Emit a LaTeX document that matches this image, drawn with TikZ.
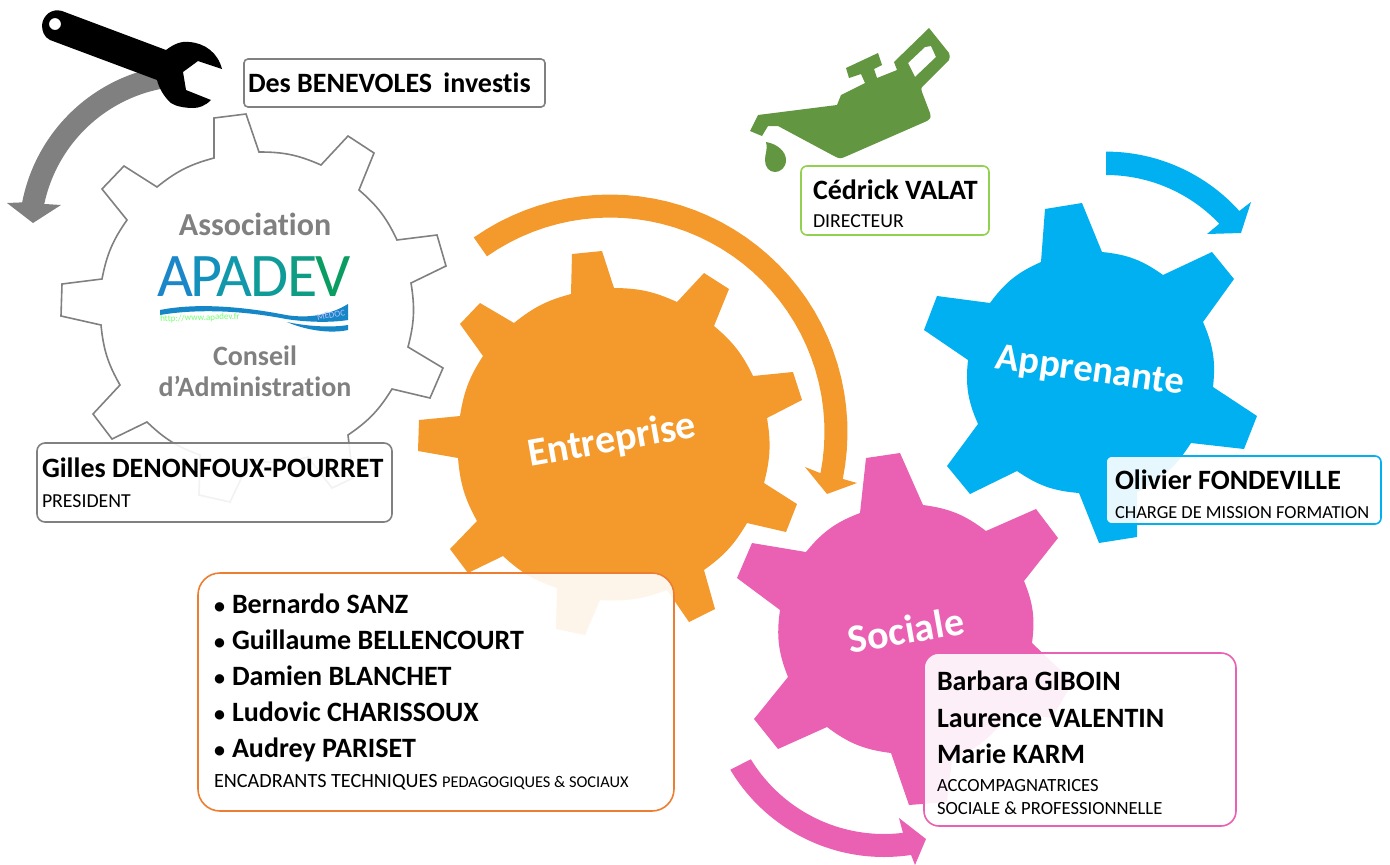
\documentclass[tikz,border=0pt]{standalone}
\usepackage{fontspec}
\setmainfont{Carlito}[Ligatures=NoCommon]
\definecolor{orangeapa}{HTML}{F4992B}
\definecolor{orangeline}{HTML}{ED7D31}
\definecolor{blueapa}{HTML}{00B0F0}
\definecolor{pinkapa}{HTML}{EA60B2}
\definecolor{greyapa}{HTML}{808080}
\definecolor{greenapa}{HTML}{629640}
\definecolor{greenline}{HTML}{92D050}
\definecolor{wave}{HTML}{1586C6}
\newcommand{\rolefont}{\fontsize{19.8}{22}\selectfont\mdseries}
\newcommand{\dotname}{\makebox[18pt][l]{\fontsize{22}{22}\selectfont\textbullet}}

\begin{document}
\begin{tikzpicture}
        [x=1pt, y=-1pt,
        gear/.style={every to/.style={bend left=#1}},
        curve/.style={domain=#1, samples=40},
        title/.style={text=white, font=\fontsize{40}{40}\selectfont\bfseries},
        graytitle/.style={text=greyapa, font=\fontsize{28}{28}\selectfont\bfseries},
        namebox/.style={draw, line width=1.6pt, fill=white, fill opacity=.9, text opacity=1,
            inner sep=0pt, align=flush left, text=black,
            font=\fontsize{28}{30}\selectfont\bfseries},
        logo/.style={font=\fontsize{62}{62}\selectfont}]
        \useasboundingbox (0,0) rectangle (1390,865);

        % gears
        \filldraw[gear=12, draw=greyapa, fill=white, line width=1.6pt]
            (214,118) -- (246,114) -- (259,152) to (321,165) -- (348,136) -- (374,153) -- (359,190)
            to (397,240) -- (437,235) -- (446,266) -- (411,283) to (408,347) -- (443,368) -- (430,398)
            -- (392,389) to (348,435) -- (353,478) -- (332,488) -- (308,457) to (250,460) -- (230,502)
            -- (199,495) -- (200,455) to (147,422) -- (112,439) -- (93,414) -- (120,385) to (101,325)
            -- (61,316) -- (62,284) -- (102,279) to (127,220) -- (102,189) -- (124,166) -- (157,187)
            to (214,158) -- cycle;
        \fill[gear=12, orangeapa]
            (572,254) -- (602,251) -- (614,288) to (677,302) -- (704,273) -- (729,289) -- (714,326)
            to (753,376) -- (793,372) -- (802,400) -- (767,418) to (764,483) -- (797,504) -- (786,532)
            -- (747,523) to (704,570) -- (715,609) -- (689,622) -- (667,590) to (600,600) -- (585,635)
            -- (556,629) -- (557,588) to (503,556) -- (468,573) -- (450,549) -- (477,521) to (458,458)
            -- (418,451) -- (419,420) -- (460,416) to (483,356) -- (460,324) -- (480,303) -- (514,323)
            to (571,294) -- cycle;
        \fill[gear=15, blueapa]
            (1045,209) -- (1082,203) -- (1102,252) to (1163,275) -- (1212,252) -- (1234,279) -- (1203,322)
            to (1213,387) -- (1257,416) -- (1244,449) -- (1191,443) to (1137,492) -- (1137,537)
            -- (1099,543) -- (1079,493) to (1017,471) -- (970,494) -- (947,466) -- (978,424) to (968,360)
            -- (924,330) -- (937,296) -- (990,303) to (1041,262) -- cycle;
        \fill[gear=15, pinkapa]
            (866,458) -- (900,453) -- (923,505) to (986,531) -- (1036,509) -- (1058,538) -- (1024,581)
            to (1032,643) -- (1073,682) -- (1052,718) -- (1010,712) to (952,760) -- (947,802)
            -- (909,805) -- (891,753) to (827,727) -- (778,749) -- (754,719) -- (788,677) to (780,610)
            -- (737,578) -- (752,543) -- (806,552) to (860,513) -- cycle;

        % arrows
        \fill[greyapa] plot[curve=-100:-169] ({190+171*cos(\x)},{235+171*sin(\x)})
            -- (7,203) -- (33,223) -- (61,205) -- (45,204)
            -- plot[curve=-168:-100] ({190+149*cos(\x)},{235+149*sin(\x)}) -- cycle;
        \fill[orangeapa] plot[curve=-125:11.4] ({610+237.5*cos(\x)},{432+237.5*sin(\x)})
            -- (857,483) -- (827,494) -- (805,467) -- (820,473)
            -- plot[curve=11:-125] ({610+214.5*cos(\x)},{432+214.5*sin(\x)}) -- cycle;
        \fill[blueapa] plot[curve=-90:-42] ({1106+179.4*cos(\x)},{331+179.4*sin(\x)})
            -- (1251,202) -- (1241,233) -- (1207,234) -- (1219,224)
            -- plot[curve=-43.4:-90] ({1106+156*cos(\x)},{331+156*sin(\x)}) -- cycle;
        \fill[pinkapa] plot[curve=149.2:81.3] ({884+179*cos(\x)},{678+179*sin(\x)})
            -- (915,865) -- (926,839) -- (899,818) -- (903,833)
            -- plot[curve=83:148.6] ({884+156*cos(\x)},{678+156*sin(\x)}) -- cycle;

        % wrench
        \fill[even odd rule, black]
            (62,11) -- (166,50) .. controls (174,44) and (181,41) .. (189,42)
            .. controls (205,43) and (218,53) .. (222,69) -- (198,61) -- (183,72) -- (186,90) -- (211,100)
            .. controls (205,106) and (199,108) .. (193,108) .. controls (184,108) and (175,106) .. (171,103)
            .. controls (164,97) and (159,88) .. (157,80) -- (50,40)
            .. controls (44,37) and (42,31) .. (42,25) .. controls (43,15) and (52,8) .. (62,11) -- cycle
            (55,24) circle [radius=6];

        % oil can
        \fill[even odd rule, greenapa]
            (929,28) -- (949,53) .. controls (950,56) .. (949,60) -- (924,85) .. controls (921,88) .. (922,92)
            -- (930,113) .. controls (931,118) .. (927,121) -- (847,156) .. controls (840,159) .. (834,156)
            -- (778,126) -- (768,126) -- (762,136) -- (750,131) -- (758,115) -- (837,105)
            -- (841,95) -- (865,83) -- (861,74) -- (849,78) -- (846,68) -- (878,53) -- (882,65) -- (874,69)
            -- (877,78) -- (897,70) -- (894,62) -- cycle
            (931,46) -- (936,57) -- (915,77) -- (908,63) -- (925,47) -- cycle;
        \fill[greenapa] (766,142) .. controls (778,144) and (786,152) .. (786,160)
            .. controls (786,168) and (780,172) .. (775,172) .. controls (769,172) and (765,167) .. (765,160)
            .. controls (765,153) and (768,150) .. (766,142) -- cycle;

        % logo
        \fill[wave] (160,310) .. controls (195,303) and (240,306) .. (286,315) .. controls (310,319) and (332,314) .. (348,304)
            -- (348,320) .. controls (330,323) and (305,322) .. (286,319) .. controls (240,310) and (195,309) .. (160,315) -- cycle;
        \fill[wave] (287,322) .. controls (305,326) and (330,328) .. (348,325) -- (348,330)
            .. controls (330,334) and (305,330) .. (287,322) -- cycle;
        \node (apadev) [logo, inner sep=0pt] at (254,277)
            {\textcolor[HTML]{1B87C9}{A}\kern-3pt\textcolor[HTML]{1490BC}{P}\kern-6pt\textcolor[HTML]{1298AB}{A}\kern-2pt\textcolor[HTML]{0F9C98}{D}\kern-1pt\textcolor[HTML]{0E9C84}{E}\kern-2pt\textcolor[HTML]{099D62}{V}};
        \node (url) [inner sep=0pt, text=green!55!white, rotate=2, font=\fontsize{9}{10}\selectfont] at (200,318) {http://www.apadev.fr};
        \node (medoc) [inner sep=0pt, text=blue!25!white, rotate=10, font=\fontsize{9}{10}\selectfont] at (331,315) {MEDOC};

        % gear names
        \node (assoc) [graytitle, font=\fontsize{32}{32}\selectfont\bfseries] at (255,224) {Association};
        \node (conseil) [graytitle] at (255,356) {Conseil};
        \node (admin) [graytitle] at (255,386) {d’Administration};
        \node (entreprise) [title, rotate=10] at (612,441) {Entreprise};
        \node (apprenante) [title, font=\fontsize{38.5}{40}\selectfont\bfseries, rotate=-8] at (1090,372) {Apprenante};
        \node (sociale) [title, rotate=10] at (906,630) {Sociale};

        % people
        \node (benevoles) [namebox, draw=greyapa, rounded corners=4pt, minimum width=301pt, minimum height=48pt, text width=293pt]
            at (394.5,83) {\rule{0pt}{20pt}Des BENEVOLES\kern5pt\ investis};
        \node (president) [namebox, draw=greyapa, rounded corners=8pt, minimum width=355pt, minimum height=79pt, text width=345pt]
            at (214.5,482.5) {Gilles DENONFOUX-POURRET\\{\rolefont PRESIDENT}};
        \node (directeur) [namebox, draw=greenline, rounded corners=6pt, minimum width=188pt, minimum height=69pt, text width=164pt]
            at (895,200.5) {\rule{0pt}{27pt}\mbox{Cédrick VALAT}\\[-2pt]{\rolefont DIRECTEUR}};
        \node (charge) [namebox, draw=blueapa, rounded corners=6pt, minimum width=275pt, minimum height=68pt, text width=257pt]
            at (1243.5,490) {\rule{0pt}{29pt}Olivier FONDEVILLE\\[-1pt]{\fontsize{18.4}{22}\selectfont\mdseries\mbox{CHARGE DE MISSION FORMATION}}};
        \node (encadrants) [namebox, draw=orangeline, rounded corners=22pt, minimum width=476pt, minimum height=238pt, text width=444pt]
            at (436,692) {\dotname Bernardo SANZ\\[6pt]\dotname Guillaume BELLENCOURT\\[6pt]\dotname Damien BLANCHET\\[6pt]\dotname Ludovic CHARISSOUX\\[6pt]\dotname Audrey PARISET\\[0pt]{\fontsize{20.2}{22}\selectfont\mdseries ENCADRANTS TECHNIQUES {\fontsize{16.4}{22}\selectfont PEDAGOGIQUES \& SOCIAUX}}};
        \node (accomp) [namebox, draw=pinkapa, rounded corners=15pt, minimum width=312pt, minimum height=173pt, text width=286pt]
            at (1080,739.5) {\rule{0pt}{27pt}Barbara GIBOIN\\[7pt]Laurence VALENTIN\\[6pt]Marie KARM\\[-2pt]{\fontsize{18.6}{22}\selectfont\mdseries ACCOMPAGNATRICES}\\[-7pt]{\fontsize{18.6}{22}\selectfont\mdseries SOCIALE \& PROFESSIONNELLE}};
\end{tikzpicture}
\end{document}
